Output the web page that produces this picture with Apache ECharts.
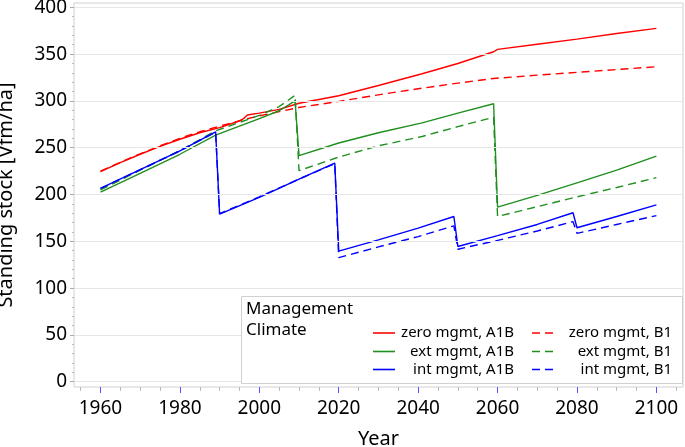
<!DOCTYPE html>
<html><head><meta charset="utf-8">
<script src="https://cdn.jsdelivr.net/npm/echarts@6/dist/echarts.min.js"></script>
<style>html,body{margin:0;padding:0;background:#fff}#c{width:685px;height:447px}</style>
</head><body><div id="c"></div><script>
// ---- data ----
const xTicks = [1960, 1980, 2000, 2020, 2040, 2060, 2080, 2100];
const xMinorTicks = [1955,1965,1970,1975,1985,1990,1995,2005,2010,2015,2025,2030,2035,2045,2050,2055,2065,2070,2075,2085,2090,2095,2105];
const yTicks = [0, 50, 100, 150, 200, 250, 300, 350, 400];
const yMinorTicks = [10,20,30,40,60,70,80,90,110,120,130,140,160,170,180,190,210,220,230,240,260,270,280,290,310,320,330,340,360,370,380,390];

const zeroA1B = [[1960,224.5],[1965,234],[1970,243],[1975,251.5],[1980,259],[1985,266],[1990,271.5],[1995,278.5],[1996,281],[1997,285],[2000,287],[2005,291],[2010,297.5],[2020,305.5],[2030,316.5],[2041,329],[2050,340],[2059,352.5],[2060,355],[2070,360.5],[2080,366],[2090,372],[2100,377.5]];
const zeroB1  = [[1960,225],[1965,234.5],[1970,243.5],[1975,252],[1980,260],[1985,267],[1990,273],[1996,280],[2000,284],[2005,288.5],[2010,293],[2020,299.5],[2030,306.5],[2040,313],[2050,319],[2059,324],[2070,327.5],[2080,330.5],[2090,333.5],[2100,336.5]];
const extA1B  = [[1960,202.5],[1970,222.5],[1980,243],[1989,263.5],[2000,281],[2005,289.5],[2009,300],[2010,241.5],[2020,255],[2030,266],[2041,276.5],[2050,287],[2059,297],[2060,186.5],[2070,199],[2080,212.5],[2090,226],[2100,241]];
const extB1   = [[1960,205],[1970,226],[1980,247],[1989,268],[2000,284.5],[2005,294],[2009,306],[2010,225.5],[2020,240],[2030,252],[2041,262],[2050,272.5],[2059,282.5],[2060,176.5],[2070,187],[2080,197.5],[2090,207.5],[2100,218]];
const intA1B  = [[1960,206.5],[1970,226.5],[1980,246.5],[1989,267],[1990,179],[2000,197],[2010,216.5],[2019,233.5],[2020,139.5],[2030,151.5],[2040,164],[2049,176.5],[2050,144.5],[2060,156],[2070,168],[2079,180.5],[2080,164.5],[2090,176.5],[2100,189]];
const intB1   = [[1960,206.5],[1970,226.5],[1980,246.5],[1989,266.5],[1990,179.5],[2000,197.5],[2010,216.5],[2019,233],[2020,132.5],[2030,144],[2040,155],[2049,166.5],[2050,141.5],[2060,151],[2070,161],[2079,171],[2080,158.5],[2090,168],[2100,177.5]];

const seriesNames = ['zero mgmt, A1B','zero mgmt, B1','ext mgmt, A1B','ext mgmt, B1','int mgmt, A1B','int mgmt, B1'];
const seriesData = [zeroA1B, zeroB1, extA1B, extB1, intA1B, intB1];
const RED='#ff0000', GREEN='#1f8f1f', BLUE='#0000ff';
const seriesColors = [RED, RED, GREEN, GREEN, BLUE, BLUE];
const seriesDashed = [false, true, false, true, false, true];

const FONT = 'Noto Sans';
const X_MIN = 1953.33, X_MAX = 2106.7, Y_MIN = -5.66, Y_MAX = 404.6;

const chart = echarts.init(document.getElementById('c'), null, {renderer:'canvas'});

const series = [{
  type:'line', data:[], z:1, silent:true, xAxisIndex:0, yAxisIndex:0,
  markLine:{silent:true, symbol:'none', label:{show:false},
    lineStyle:{color:'#e6e6e6', type:'solid', width:1},
    data: yTicks.map(v=>({yAxis:v}))}
}];
seriesData.forEach((d,i)=>{
  series.push({
    name: seriesNames[i], type:'line', data:d, showSymbol:false, symbol:'none', z:3,
    xAxisIndex:0, yAxisIndex:0, animation:false,
    lineStyle:{color:seriesColors[i], width:1.4, type: seriesDashed[i] ? [8,5] : 'solid'}
  });
});

// legend drawn as graphic
const legX = 241, legY = 296;
const gfx = [
  {type:'rect', left:legX, top:legY, shape:{width:441, height:87}, style:{fill:'#fff', stroke:'#d0d0d0', lineWidth:1}, z:10},
  {type:'text', left:legX+5, top:legY+5, style:{text:'Management', font:'17px "Noto Sans"', fill:'#000'}, z:11},
  {type:'text', left:legX+5, top:legY+26, style:{text:'Climate', font:'17px "Noto Sans"', fill:'#000'}, z:11}
];
const rowsY = [333, 351.5, 369.5];
for (let r=0; r<3; r++) {
  for (let c=0; c<2; c++) {
    const idx = r*2 + c;
    const lx = c===0 ? 373 : 532;
    const tx = c===0 ? 514 : 672;
    gfx.push({type:'line', shape:{x1:lx, y1:rowsY[r], x2:lx+22, y2:rowsY[r]},
      style:{stroke:seriesColors[idx], lineWidth:1.6, lineDash: seriesDashed[idx] ? [8,5] : null}, z:11});
    gfx.push({type:'text', x:tx, y:rowsY[r], style:{text:seriesNames[idx], font:'15px "Noto Sans"', fill:'#000', align:'right', verticalAlign:'middle'}, z:11});
  }
}

chart.setOption({
  animation:false,
  backgroundColor:'#fff',
  grid:{left:74, right:2, top:3, bottom:60, containLabel:false, outerBoundsMode:'none',
        show:true, borderColor:'#d0d0d0', borderWidth:1, backgroundColor:'transparent'},
  xAxis:[{
    type:'value', min:X_MIN, max:X_MAX, position:'bottom',
    name:'Year', nameLocation:'middle', nameGap:42,
    nameTextStyle:{fontFamily:FONT, fontSize:20, color:'#000'},
    axisLine:{show:false, onZero:false},
    axisTick:{show:true, length:6, customValues:xTicks, lineStyle:{color:'#5555ff', width:1}},
    axisLabel:{show:true, customValues:xTicks, formatter:v=>String(Math.round(v)), fontFamily:FONT, fontSize:19, color:'#000', margin:12},
    splitLine:{show:false}
  },{
    type:'value', min:X_MIN, max:X_MAX, position:'bottom', offset:0,
    axisLine:{show:false, onZero:false},
    axisTick:{show:true, length:4, customValues:xMinorTicks, lineStyle:{color:'#bbbbbb', width:1}},
    axisLabel:{show:false}, splitLine:{show:false}
  }],
  yAxis:[{
    type:'value', min:Y_MIN, max:Y_MAX, position:'left',
    name:'Standing stock [Vfm/ha]', nameLocation:'middle', nameGap:58,
    nameTextStyle:{fontFamily:FONT, fontSize:20, color:'#000'},
    axisLine:{show:false, onZero:false},
    axisTick:{show:true, length:4, customValues:yTicks, lineStyle:{color:'#aaaaaa', width:1}},
    axisLabel:{show:true, customValues:yTicks, formatter:v=>String(Math.round(v)), fontFamily:FONT, fontSize:19, color:'#000', margin:7},
    splitLine:{show:false}
  },{
    type:'value', min:Y_MIN, max:Y_MAX, position:'left', offset:0,
    axisLine:{show:false, onZero:false},
    axisTick:{show:true, length:2, customValues:yMinorTicks, lineStyle:{color:'#bbbbbb', width:1}},
    axisLabel:{show:false}, splitLine:{show:false}
  }],
  series: series,
  graphic: gfx
});
</script></body></html>
